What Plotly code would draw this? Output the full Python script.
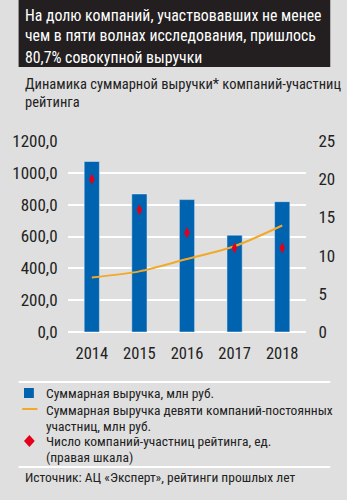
import plotly.graph_objects as go

# ---- data ----
years = ["2014", "2015", "2016", "2017", "2018"]
revenue_total = [1071.3, 867.4, 831.9, 608.6, 818.9]          # bars, left scale
revenue_nine = [343, 381, 459, 539, 669]                      # line, left scale
participants = [20, 16, 13, 11, 11]                           # markers, right scale
left_ticks = [0, 200, 400, 600, 800, 1000, 1200]
right_ticks = [0, 5, 10, 15, 20, 25]

title_lines = ["На долю компаний, участвовавших не менее",
               "чем в пяти волнах исследования, пришлось",
               "80,7% совокупной выручки"]
subtitle_lines = ["Динамика суммарной выручки* компаний-участниц", "рейтинга"]
legend_labels = ["Суммарная выручка, млн руб.",
                 "Суммарная выручка девяти компаний-постоянных",
                 "участниц, млн руб.",
                 "Число компаний-участниц рейтинга, ед.",
                 "(правая шкала)"]
source = "Источник: АЦ «Эксперт», рейтинги прошлых лет"

W, H = 347, 500
L, R, T, B = 55, 27, 141, 168
BLUE = "#0063b0"
ORANGE = "#f2a929"
RED = "#e2001a"
BG = "#dfdfdf"
DARK = "#231f20"
FONT = "Roboto Condensed, DejaVu Sans Condensed, sans-serif"
TXT = "#222"

pw = W - L - R
ph = H - T - B


def px(x):
    return (x - L) / pw


def py(y):
    return (H - B - y) / ph


fig = go.Figure()
fig.add_trace(go.Bar(x=years, y=revenue_total, marker_color=BLUE, width=0.32,
                     showlegend=False, hoverinfo="skip"))
fig.add_trace(go.Scatter(x=years, y=revenue_nine, mode="lines",
                         line=dict(color=ORANGE, width=2, shape="spline", smoothing=0.8),
                         showlegend=False, hoverinfo="skip"))
fig.add_trace(go.Scatter(x=years, y=participants, mode="markers", yaxis="y2",
                         marker=dict(symbol="diamond-tall", size=8, color=RED),
                         showlegend=False, hoverinfo="skip"))

annotations = []
for yr, v in zip(years, revenue_total):
    annotations.append(dict(x=yr, y=v, xref="x", yref="y", text=f"{v:.1f}".replace(".", ","),
                            showarrow=False, yshift=19, yanchor="middle",
                            font=dict(size=16, color=TXT, family=FONT)))

# header text
for i, t in enumerate(title_lines):
    annotations.append(dict(x=px(5), y=py(15 + i * 21), xref="paper", yref="paper", text=t,
                            showarrow=False, xanchor="left", yanchor="middle",
                            font=dict(size=15.8, color="white", family=FONT)))
for i, t in enumerate(subtitle_lines):
    annotations.append(dict(x=px(5), y=py(84 + i * 19), xref="paper", yref="paper", text=t,
                            showarrow=False, xanchor="left", yanchor="middle",
                            font=dict(size=14.5, color=TXT, family=FONT)))
legend_y = [393, 410, 426, 441, 457]
for t, yy in zip(legend_labels, legend_y):
    annotations.append(dict(x=px(28), y=py(yy), xref="paper", yref="paper", text=t,
                            showarrow=False, xanchor="left", yanchor="middle",
                            font=dict(size=13.5, color=TXT, family=FONT)))
annotations.append(dict(x=px(5), y=py(477), xref="paper", yref="paper", text=source,
                        showarrow=False, xanchor="left", yanchor="middle",
                        font=dict(size=13.5, color=TXT, family=FONT)))

shapes = [
    dict(type="rect", xref="paper", yref="paper", x0=px(0), x1=px(W), y0=py(0), y1=py(67),
         fillcolor=DARK, line_width=0, layer="below"),
    dict(type="line", xref="paper", yref="paper", x0=px(0), x1=px(W), y0=py(382), y1=py(382),
         line=dict(color="white", width=2)),
    dict(type="line", xref="paper", yref="paper", x0=px(0), x1=px(W), y0=py(467), y1=py(467),
         line=dict(color="white", width=2)),
    # legend symbols
    dict(type="rect", xref="paper", yref="paper", x0=px(6), x1=px(17), y0=py(388), y1=py(398),
         fillcolor=BLUE, line_width=0),
    dict(type="line", xref="paper", yref="paper", x0=px(4), x1=px(21), y0=py(409), y1=py(409),
         line=dict(color=ORANGE, width=2)),
    dict(type="path", xref="paper", yref="paper",
         path=f"M {px(12)},{py(435)} L {px(18)},{py(441)} L {px(12)},{py(447)} L {px(6)},{py(441)} Z",
         fillcolor=RED, line_width=0),
]

fig.update_layout(
    width=W, height=H, margin=dict(l=L, r=R, t=T, b=B),
    paper_bgcolor=BG, plot_bgcolor=BG, separators=", ",
    font=dict(family=FONT, size=15, color=TXT),
    bargap=0.68,
    xaxis=dict(type="category", range=[-0.5, 4.5], showgrid=False, zeroline=False,
               ticks="outside", ticklen=6, tickcolor="rgba(0,0,0,0)",
               tickfont=dict(size=16.5, color=TXT)),
    yaxis=dict(range=[0, 1200], tickvals=left_ticks, tickformat=".1f",
               gridcolor="white", gridwidth=2, zeroline=True, zerolinecolor="white", zerolinewidth=2,
               ticks="outside", ticklen=6, tickcolor="rgba(0,0,0,0)",
               tickfont=dict(size=17, color=TXT)),
    yaxis2=dict(range=[0, 25], tickvals=right_ticks, overlaying="y", side="right",
                showgrid=False, zeroline=False,
                ticks="outside", ticklen=8, tickcolor="rgba(0,0,0,0)",
                tickfont=dict(size=17, color=TXT)),
    annotations=annotations, shapes=shapes,
)

fig.write_html("out.html")
